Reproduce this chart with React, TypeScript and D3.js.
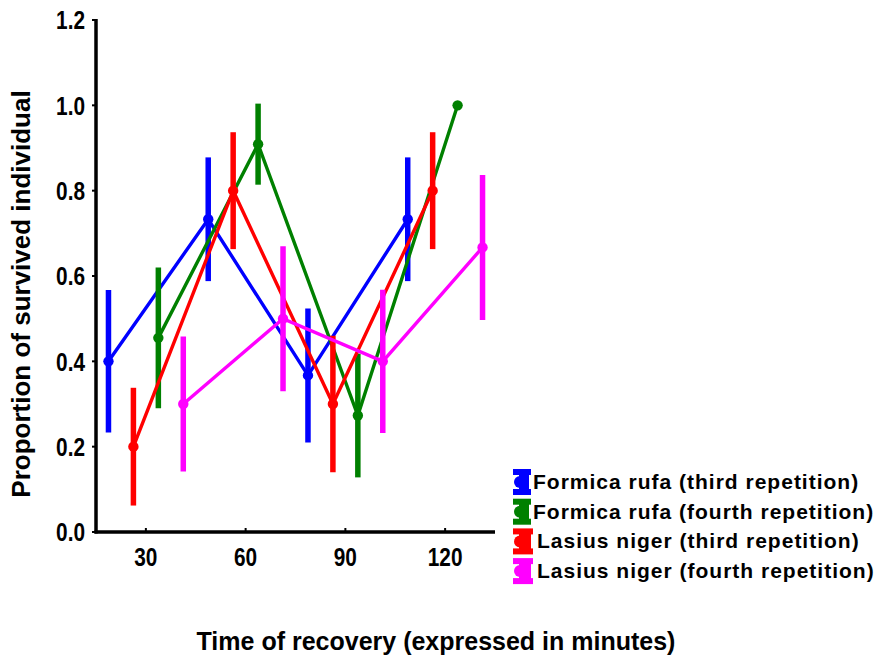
import * as d3 from "d3";
import React from "react";

const minutes = [30, 60, 90, 120];
const yTicks = [0, 0.2, 0.4, 0.6, 0.8, 1.0, 1.2];

const seriesNames = [
  "Formica rufa (third repetition)",
  "Formica rufa (fourth repetition)",
  "Lasius niger (third repetition)",
  "Lasius niger (fourth repetition)",
];
const seriesColors = ["#0000ff", "#008000", "#ff0000", "#ff00ff"];
// horizontal offset of each series inside a time group, in minutes
const seriesOffsets = [-11.25, 3.75, -3.75, 11.25];

const formicaThird = [0.4, 0.733, 0.367, 0.733];
const formicaThirdErr = [0.167, 0.145, 0.157, 0.145];
const formicaFourth = [0.455, 0.909, 0.273, 1.0];
const formicaFourthErr = [0.165, 0.095, 0.145, 0];
const lasiusThird = [0.2, 0.8, 0.3, 0.8];
const lasiusThirdErr = [0.138, 0.137, 0.16, 0.137];
const lasiusFourth = [0.3, 0.5, 0.4, 0.667];
const lasiusFourthErr = [0.158, 0.17, 0.168, 0.17];

const seriesValues = [formicaThird, formicaFourth, lasiusThird, lasiusFourth];
const seriesErrors = [formicaThirdErr, formicaFourthErr, lasiusThirdErr, lasiusFourthErr];

const width = 877;
const height = 659;
const left = 96;
const right = 495;
const top = 20;
const bottom = 532;

const sans = "'Liberation Sans', Arial, Helvetica, sans-serif";

export default function App() {
  const x = d3.scaleLinear().domain([15, 135]).range([left, right]);
  const y = d3.scaleLinear().domain([0, 1.2]).range([bottom, top]);

  return (
    <svg
      width={width}
      height={height}
      style={{ position: "absolute", left: 0, top: 0, background: "#fff" }}
    >
      {/* axes */}
      <line x1={left} x2={left} y1={top - 1} y2={bottom + 1.5} stroke="#000" strokeWidth={3.5} />
      <line x1={left - 1.5} x2={right} y1={bottom} y2={bottom} stroke="#000" strokeWidth={3.5} />
      {yTicks.map((t) => (
        <g key={t}>
          <line x1={left - 4} x2={left} y1={y(t)} y2={y(t)} stroke="#000" strokeWidth={2} />
          {/* condensed bold digits, like Arial Narrow */}
          <text
            transform={`translate(85, ${y(t)}) scale(0.8, 1)`}
            dy="0.36em"
            textAnchor="end"
            fontFamily={sans}
            fontWeight="bold"
            fontSize={26}
          >
            {t.toFixed(1)}
          </text>
        </g>
      ))}
      {minutes.map((m) => (
        <g key={m}>
          <line x1={x(m)} x2={x(m)} y1={bottom} y2={bottom - 4} stroke="#000" strokeWidth={2} />
          <text
            transform={`translate(${x(m)}, 566) scale(0.8, 1)`}
            textAnchor="middle"
            fontFamily={sans}
            fontWeight="bold"
            fontSize={26}
          >
            {m}
          </text>
        </g>
      ))}

      {/* series */}
      {seriesValues.map((vals, s) => {
        const off = seriesOffsets[s];
        const color = seriesColors[s];
        const lx = d3
          .line<number>()
          .x((_, i) => x(minutes[i] + off))
          .y((d) => y(d));
        return (
          <g key={s}>
            <path d={lx(vals) ?? ""} fill="none" stroke={color} strokeWidth={3.4} />
            {vals.map((v, i) =>
              seriesErrors[s][i] > 0 ? (
                <line
                  key={"e" + i}
                  x1={x(minutes[i] + off)}
                  x2={x(minutes[i] + off)}
                  y1={y(v + seriesErrors[s][i])}
                  y2={y(v - seriesErrors[s][i])}
                  stroke={color}
                  strokeWidth={5.5}
                />
              ) : null
            )}
            {vals.map((v, i) => (
              <circle key={"c" + i} cx={x(minutes[i] + off)} cy={y(v)} r={5.2} fill={color} />
            ))}
          </g>
        );
      })}

      {/* legend */}
      {seriesNames.map((name, i) => {
        const cy = 482 + i * 29.7;
        const color = seriesColors[i];
        const sx = 513;
        const sw = i < 2 ? 18 : 20;
        return (
          <g key={name}>
            <rect x={sx} y={cy - 13} width={sw} height={6} fill={color} />
            <rect x={sx} y={cy + 7} width={sw} height={6} fill={color} />
            <rect x={sx + 6} y={cy - 8} width={sw - 8} height={16} fill={color} />
            <circle cx={sx + 7} cy={cy} r={6} fill={color} />
            <text
              x={i < 2 ? 533 : 537}
              y={cy + 7}
              fontFamily={sans}
              fontWeight="bold"
              fontSize={21}
              letterSpacing={1}
            >
              {name}
            </text>
          </g>
        );
      })}

      {/* axis titles */}
      <text
        transform={`translate(30, 294) rotate(-90)`}
        textAnchor="middle"
        fontFamily={sans}
        fontWeight="bold"
        fontSize={26}
      >
        Proportion of survived individual
      </text>
      <text
        x={436}
        y={650}
        textAnchor="middle"
        fontFamily={sans}
        fontWeight="bold"
        fontSize={25}
      >
        Time of recovery (expressed in minutes)
      </text>
    </svg>
  );
}
